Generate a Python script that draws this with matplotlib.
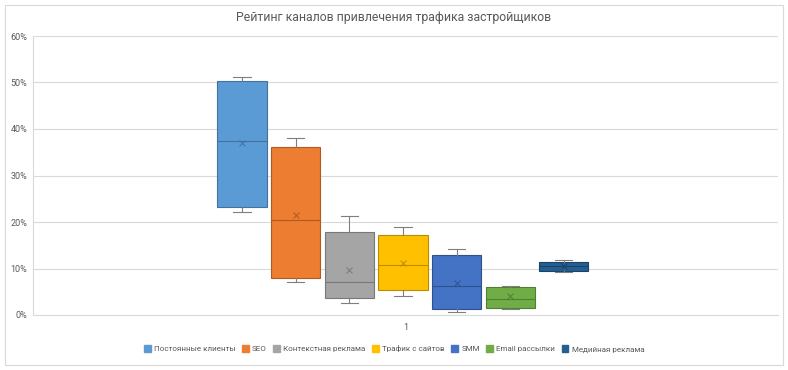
import matplotlib.pyplot as plt
from matplotlib.patches import Patch, Rectangle

plt.rcParams['font.family'] = ['Roboto', 'DejaVu Sans']

names = ['Постоянные клиенты', 'SEO', 'Контекстная реклама', 'Трафик с сайтов',
         'SMM', 'Email рассылки', 'Медийная реклама']
colors = ['#5B9BD5', '#ED7D31', '#A5A5A5', '#FFC000', '#4472C4', '#70AD47', '#255E91']
edges = ['#41719C', '#AE5A21', '#787878', '#BC8C00', '#2F528F', '#507E32', '#1B4368']
# значения в %
whislo = [22.2, 7.1, 2.6, 4.1, 0.6, 1.3, 9.2]
q1 = [23.2, 8.0, 3.7, 5.4, 1.3, 1.5, 9.5]
med = [37.4, 20.4, 7.1, 10.8, 6.2, 3.4, 10.5]
q3 = [50.3, 36.1, 17.8, 17.2, 12.9, 6.0, 11.4]
whishi = [51.2, 38.0, 21.3, 18.9, 14.2, 6.2, 11.8]
mean = [37.0, 21.5, 9.7, 11.2, 6.9, 4.0, 10.5]

W, H = 788, 370
fig = plt.figure(figsize=(W / 100, H / 100), dpi=100)
fig.patches.append(Rectangle((5 / W, 5 / H), 778 / W, 360 / H, transform=fig.transFigure,
                             fill=False, edgecolor='#D9D9D9', linewidth=0.8))
ax = fig.add_axes([33 / W, 1 - 315 / H, 745 / W, 279 / H])

gap = 0.072
width = 0.066
center = 0.9966
for i in range(len(names)):
    pos = center + (i - 3) * gap
    st = [dict(whislo=whislo[i], q1=q1[i], med=med[i], q3=q3[i], whishi=whishi[i],
               mean=mean[i], fliers=[])]
    ax.bxp(st, positions=[pos], widths=width, patch_artist=True, showmeans=True,
           boxprops=dict(facecolor=colors[i], edgecolor=edges[i], linewidth=0.8),
           medianprops=dict(color=edges[i], linewidth=0.8),
           whiskerprops=dict(color='#7F7F7F', linewidth=0.8),
           capprops=dict(color='#7F7F7F', linewidth=0.8),
           meanprops=dict(marker='x', markeredgecolor=edges[i], markersize=5, markeredgewidth=0.7),
           capwidths=width * 0.35, manage_ticks=False)

ax.set_xlim(0.5, 1.5)
ax.set_ylim(0, 60)
ax.set_yticks(range(0, 61, 10))
ax.set_yticklabels([f'{v}%' for v in range(0, 61, 10)])
ax.set_xticks([1])
ax.set_xticklabels(['1'])
ax.grid(axis='y', color='#D9D9D9', linewidth=0.8)
ax.set_axisbelow(True)
for s in ['top', 'right']:
    ax.spines[s].set_visible(False)
ax.spines['left'].set_color('#D9D9D9')
ax.spines['bottom'].set_color('#D9D9D9')
ax.tick_params(axis='both', length=0, labelsize=6.5, labelcolor='#595959')
ax.tick_params(axis='y', pad=4)
ax.tick_params(axis='x', pad=6)

fig.text(0.5, 1 - 18 / H, 'Рейтинг каналов привлечения трафика застройщиков',
         ha='center', va='center', fontsize=8.8, color='#595959')

handles = [Patch(facecolor=c, edgecolor=c) for c in colors]
fig.legend(handles, names, loc='center', bbox_to_anchor=(0.5, 1 - 349 / H), ncol=7,
           frameon=False, fontsize=5.8, labelcolor='#595959', handlelength=0.85,
           handleheight=0.85, handletextpad=0.4, columnspacing=0.8)

fig.savefig('out.png', dpi=100)
